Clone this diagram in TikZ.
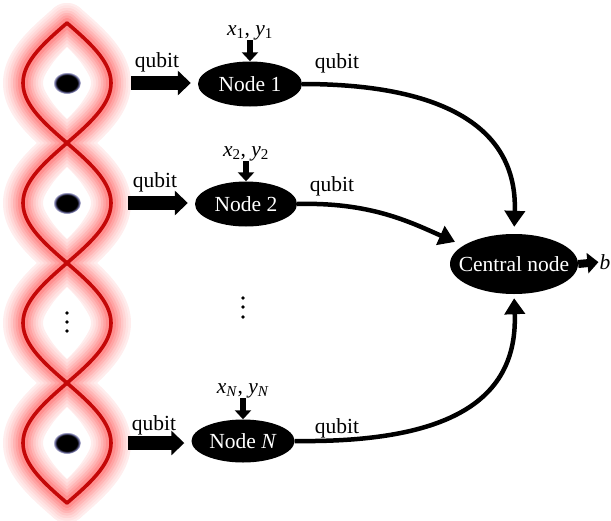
\documentclass[tikz,border=0pt]{standalone}
\usepackage{fontspec}
\setmainfont{Liberation Serif}
\usetikzlibrary{arrows.meta,shapes.geometric}
\definecolor{helix}{RGB}{196,8,8}
\pgfdeclareradialshading{qdot}{\pgfpoint{0bp}{0bp}}{color(0bp)=(black); color(18.5bp)=(black); color(22bp)=(black!60!blue!55); color(24.5bp)=(blue!10!gray!25); color(25bp)=(white)}
\newcommand\varsub[2]{\textit{#1}\textsubscript{#2}}
\tikzset{
  qnode/.style={ellipse, fill=black, text=white, inner xsep=-20pt, inner ysep=0pt, font=\fontsize{21.5}{24}\selectfont},
  lbl/.style={inner sep=0pt, font=\fontsize{21.5}{24}\selectfont},
  blockarrow/.style={line width=14pt, -{Triangle[length=13pt,width=24pt]}, shorten >=7pt},
  inarrow/.style={line width=5.5pt, -{Triangle[length=9pt,width=16pt]}},
  curvearrow/.style={line width=4.5pt, -{Triangle[length=16pt,width=20pt]}},
  glow/.style={line cap=round, line join=round},
}
\begin{document}
\begin{tikzpicture}[x=1pt,y=-1pt]
\useasboundingbox (0,0) rectangle (611,520);
% --- glowing entangled chain ---
\foreach \w/\c in {40/red!7, 35/red!11, 30/red!16, 25/red!22, 20/red!29, 15/red!36, 10/red!44}{
  \draw[glow, line width=\w pt, \c] plot[variable=\t, domain=23:503, samples=161, smooth] ({67+44*sin(1.5*(\t-23))},\t);
  \draw[glow, line width=\w pt, \c] plot[variable=\t, domain=23:503, samples=161, smooth] ({67-44*sin(1.5*(\t-23))},\t);
}
% inner white lens areas
\foreach \yc in {83,203,323,443}{
  \fill[white] plot[variable=\t, domain=\yc-36:\yc+36, samples=60, smooth] ({67+(44-22)*cos(90*(\t-\yc)/36)},\t)
    -- plot[variable=\t, domain=\yc+36:\yc-36, samples=60, smooth] ({67-(44-22)*cos(90*(\t-\yc)/36)},\t) -- cycle;
}
\draw[line width=3.6pt, helix, line cap=round] plot[variable=\t, domain=23:503, samples=161, smooth] ({67+44*sin(1.5*(\t-23))},\t);
\draw[line width=3.6pt, helix, line cap=round] plot[variable=\t, domain=23:503, samples=161, smooth] ({67-44*sin(1.5*(\t-23))},\t);
% qubit dots
\foreach \yc in {83,203,443}{
  \shade[shading=qdot] (67,\yc) ellipse [x radius=14pt, y radius=11pt];
}
\foreach \yy in {313,322,331}{ \fill (67,\yy) circle (1.8pt); }
% --- nodes ---
\node[qnode, minimum width=104pt, minimum height=45pt] (n1) at (250,84) {Node 1};
\node[qnode, minimum width=102pt, minimum height=45pt] (n2) at (246,204) {Node 2};
\node[qnode, minimum width=103pt, minimum height=43pt] (nN) at (243,441) {Node \textit{N}};
\node[qnode, minimum width=128pt, minimum height=60pt] (c) at (514,264) {Central node};
\foreach \yy in {298,307,317}{ \fill (243,\yy) circle (1.8pt); }
% inputs
\node[lbl] (i1) at (250,33) {\varsub{x}{1}, \varsub{y}{1}};
\node[lbl] (i2) at (246,154) {\varsub{x}{2}, \varsub{y}{2}};
\node[lbl] (iN) at (243,391) {\varsub{x}{\textit{N}}, \varsub{y}{\textit{N}}};
\draw[inarrow] (i1.south) -- (n1.north);
\draw[inarrow] (i2.south) -- (n2.north);
\draw[inarrow] (iN.south) -- (nN.north);
% qubit block arrows
\coordinate (s1) at (131,83);
\coordinate (s2) at (128,203);
\coordinate (sN) at (128,443);
\draw[blockarrow] (s1) -- (n1.west |- s1);
\draw[blockarrow] (s2) -- (n2.west |- s2);
\draw[blockarrow] (sN) -- (nN.west |- sN);
\node[lbl] (q1) at (157,62) {qubit};
\node[lbl] (q2) at (155,182) {qubit};
\node[lbl] (qN) at (154,425) {qubit};
% curves to central node
\draw[curvearrow, shorten >=7pt] (n1.east) .. controls (430,84) and (518,120) .. (c.north);
\draw[curvearrow, shorten >=9pt] (n2.east) .. controls (370,202) and (410,222) .. (c.160);
\draw[curvearrow, shorten >=4pt] (nN.east) .. controls (450,443) and (518,400) .. (c.south);
\node[lbl] (r1) at (337,63) {qubit};
\node[lbl] (r2) at (332,186) {qubit};
\node[lbl] (rN) at (337,428) {qubit};
% output b
\node[lbl] (b) at (605,262) {\textit{b}};
\draw[line width=8pt, -{Triangle[length=11pt,width=20pt]}, shorten >=1pt] (c.east) -- (b.west);
\end{tikzpicture}
\end{document}
